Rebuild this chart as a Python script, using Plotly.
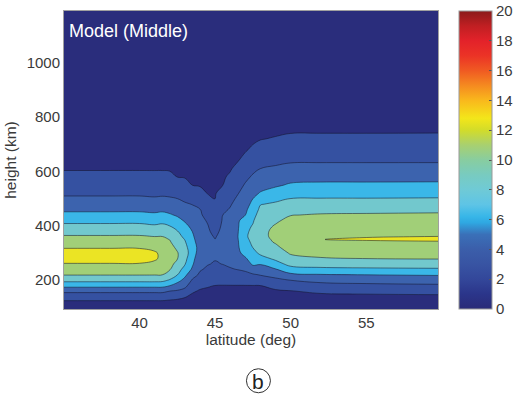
import numpy as np
import plotly.graph_objects as go

# ---- data ----
latitudes = [35, 38, 40, 41, 41.5, 42, 42.5, 43, 43.5, 44, 44.5, 45, 45.5, 46, 46.5,
             47, 47.5, 48, 49, 50, 52, 55, 60]
heights = [90, 120, 140, 160, 180, 200, 220, 240, 260, 280, 300, 320, 340, 350, 360,
           380, 400, 420, 440, 460, 480, 500, 520, 550, 580, 610, 640, 680, 720, 760,
           800, 900, 1000, 1200]

# one vertical profile (values over `heights`) per latitude
z_by_lat = [
    [0.5, 1.72, 2.90, 4.44, 6.63, 8.56, 10.09, 11.0, 11.91, 12.77, 12.76, 11.88, 11.04, 10.63, 10.21, 9.32, 8.41, 7.46, 6.49, 5.66, 4.97, 4.28, 3.72, 3.01, 2.31, 1.92, 1.77, 1.58, 1.39, 1.19, 1.0, 0.8, 0.6, 0.4],
    [0.5, 1.72, 2.90, 4.44, 6.63, 8.56, 10.09, 11.0, 11.91, 12.77, 12.76, 11.88, 11.04, 10.63, 10.21, 9.32, 8.41, 7.46, 6.49, 5.66, 4.97, 4.28, 3.72, 3.01, 2.31, 1.92, 1.77, 1.58, 1.39, 1.19, 1.0, 0.8, 0.6, 0.4],
    [0.5, 1.72, 2.90, 4.44, 6.63, 8.56, 10.09, 11.0, 11.91, 12.65, 12.65, 11.88, 11.04, 10.63, 10.21, 9.32, 8.41, 7.46, 6.49, 5.66, 4.97, 4.28, 3.72, 3.01, 2.31, 1.92, 1.77, 1.58, 1.39, 1.19, 1.0, 0.8, 0.6, 0.4],
    [0.5, 1.72, 2.90, 4.44, 6.63, 8.56, 10.07, 10.76, 11.45, 12.35, 12.30, 11.39, 10.71, 10.37, 10.03, 9.12, 8.19, 7.26, 6.33, 5.55, 4.86, 4.17, 3.66, 2.98, 2.30, 1.92, 1.77, 1.58, 1.39, 1.19, 1.0, 0.8, 0.6, 0.4],
    [0.5, 1.72, 2.90, 4.44, 6.60, 8.46, 10.02, 10.49, 10.97, 11.46, 11.46, 10.99, 10.52, 10.28, 10.05, 9.22, 8.35, 7.43, 6.48, 5.65, 4.95, 4.25, 3.70, 3.00, 2.30, 1.92, 1.77, 1.58, 1.39, 1.19, 1.0, 0.8, 0.6, 0.4],
    [0.5, 1.63, 2.67, 4.01, 6.01, 7.82, 9.16, 10.12, 10.47, 10.81, 10.84, 10.50, 10.16, 9.96, 9.57, 8.78, 7.99, 7.09, 6.18, 5.48, 4.82, 4.16, 3.65, 2.94, 2.24, 1.90, 1.76, 1.57, 1.38, 1.19, 1.0, 0.8, 0.6, 0.4],
    [0.55, 1.56, 2.47, 3.80, 5.21, 6.64, 8.04, 8.79, 9.55, 10.08, 10.11, 9.73, 9.18, 8.90, 8.63, 8.08, 7.32, 6.52, 5.79, 5.19, 4.60, 4.01, 3.50, 2.75, 1.99, 1.86, 1.73, 1.55, 1.36, 1.18, 1.0, 0.8, 0.6, 0.4],
    [0.6, 1.48, 2.13, 3.38, 4.49, 5.46, 6.42, 7.35, 8.13, 8.57, 8.98, 8.58, 8.17, 7.94, 7.63, 7.02, 6.40, 5.81, 5.27, 4.73, 4.19, 3.67, 3.15, 2.38, 1.94, 1.81, 1.68, 1.51, 1.34, 1.17, 1.0, 0.8, 0.6, 0.4],
    [0.7, 1.30, 1.70, 2.20, 3.00, 3.80, 4.73, 5.71, 6.22, 6.53, 6.84, 6.85, 6.56, 6.41, 6.26, 5.96, 5.56, 5.16, 4.76, 4.36, 3.94, 3.39, 2.83, 1.99, 1.88, 1.76, 1.64, 1.48, 1.32, 1.16, 1.0, 0.8, 0.6, 0.4],
    [0.8, 1.25, 1.55, 1.85, 2.34, 3.02, 3.69, 4.18, 4.50, 4.83, 5.16, 5.35, 5.17, 5.07, 4.98, 4.79, 4.61, 4.42, 4.23, 4.05, 3.54, 2.92, 2.31, 1.93, 1.81, 1.70, 1.59, 1.44, 1.30, 1.15, 1.0, 0.8, 0.6, 0.4],
    [0.85, 1.25, 1.52, 1.79, 2.11, 2.65, 3.19, 3.73, 4.10, 4.30, 4.50, 4.54, 4.43, 4.37, 4.31, 4.19, 4.08, 3.86, 3.45, 3.05, 2.65, 2.24, 1.97, 1.87, 1.76, 1.66, 1.56, 1.42, 1.28, 1.14, 1.0, 0.8, 0.6, 0.4],
    [0.9, 1.26, 1.50, 1.74, 1.98, 2.43, 2.90, 3.38, 3.86, 4.10, 4.23, 4.23, 4.10, 4.03, 3.91, 3.63, 3.34, 3.06, 2.77, 2.49, 2.20, 1.98, 1.92, 1.82, 1.72, 1.62, 1.52, 1.39, 1.26, 1.13, 1.0, 0.8, 0.6, 0.4],
    [0.9, 1.25, 1.49, 1.73, 1.96, 2.47, 3.03, 3.58, 4.04, 4.20, 4.36, 4.52, 4.55, 4.49, 4.44, 4.33, 4.22, 4.11, 3.99, 3.62, 3.24, 2.86, 2.48, 1.98, 1.86, 1.75, 1.63, 1.47, 1.31, 1.16, 1.0, 0.8, 0.6, 0.4],
    [0.9, 1.25, 1.49, 1.73, 1.96, 2.56, 3.21, 3.87, 4.26, 4.58, 4.90, 5.00, 5.10, 5.15, 5.20, 5.08, 4.96, 4.75, 4.45, 4.15, 3.83, 3.50, 3.17, 2.67, 2.17, 1.90, 1.76, 1.57, 1.38, 1.19, 1.0, 0.8, 0.6, 0.4],
    [0.85, 1.22, 1.47, 1.72, 1.96, 2.62, 3.35, 4.05, 4.57, 5.08, 5.60, 5.72, 5.83, 5.89, 5.95, 5.87, 5.78, 5.70, 5.34, 4.98, 4.63, 4.27, 3.91, 3.39, 2.87, 2.35, 1.94, 1.71, 1.47, 1.24, 1.0, 0.8, 0.6, 0.4],
    [0.8, 1.19, 1.45, 1.70, 1.96, 2.69, 3.51, 4.30, 5.06, 5.81, 6.56, 7.30, 7.52, 7.63, 7.74, 7.63, 7.41, 6.87, 5.99, 5.67, 5.33, 5.00, 4.67, 4.17, 3.61, 3.02, 2.43, 1.87, 1.58, 1.29, 1.0, 0.8, 0.6, 0.4],
    [0.8, 1.19, 1.45, 1.71, 1.97, 2.84, 3.77, 5.20, 6.29, 6.86, 7.43, 8.01, 8.27, 8.40, 8.53, 8.40, 8.13, 7.78, 7.33, 6.89, 6.44, 5.99, 5.56, 4.89, 4.22, 3.61, 3.02, 2.24, 1.74, 1.37, 1.0, 0.8, 0.6, 0.4],
    [0.8, 1.20, 1.47, 1.73, 1.99, 3.05, 4.10, 5.10, 6.13, 7.38, 8.33, 8.98, 9.38, 9.45, 9.53, 9.54, 9.42, 9.30, 8.85, 8.40, 7.91, 7.02, 6.13, 5.39, 4.70, 4.02, 3.44, 2.66, 1.93, 1.47, 1.0, 0.8, 0.6, 0.4],
    [0.7, 1.18, 1.50, 1.82, 2.47, 3.53, 4.67, 5.88, 7.33, 8.36, 9.02, 9.67, 10.13, 10.26, 10.39, 10.36, 10.12, 9.75, 9.25, 8.75, 8.25, 7.60, 6.80, 5.75, 5.00, 4.25, 3.63, 2.88, 2.13, 1.55, 1.0, 0.8, 0.6, 0.4],
    [0.6, 1.18, 1.56, 1.94, 2.92, 4.01, 5.54, 7.27, 8.55, 9.45, 10.19, 10.66, 10.99, 11.07, 11.16, 11.07, 10.90, 10.43, 9.94, 9.30, 8.67, 8.03, 7.31, 6.22, 5.34, 4.52, 3.80, 3.07, 2.35, 1.66, 1.0, 0.8, 0.6, 0.4],
    [0.5, 1.19, 1.65, 2.27, 3.35, 4.53, 5.87, 7.57, 8.79, 9.84, 10.69, 11.50, 11.78, 11.99, 11.86, 11.62, 11.23, 10.68, 10.14, 9.47, 8.77, 8.07, 7.38, 6.34, 5.43, 4.57, 3.82, 3.09, 2.36, 1.67, 1.0, 0.8, 0.6, 0.4],
    [0.5, 1.21, 1.69, 2.40, 3.54, 4.75, 6.01, 7.67, 8.91, 10.03, 10.63, 11.22, 11.82, 12.10, 11.96, 11.51, 11.07, 10.62, 10.18, 9.56, 8.81, 8.07, 7.38, 6.34, 5.43, 4.57, 3.82, 3.09, 2.36, 1.67, 1.0, 0.8, 0.6, 0.4],
    [0.5, 1.24, 1.73, 2.53, 3.71, 4.91, 6.16, 7.76, 9.03, 10.12, 10.71, 11.29, 11.88, 12.23, 12.03, 11.58, 11.13, 10.69, 10.24, 9.65, 8.88, 8.12, 7.41, 6.38, 5.45, 4.58, 3.82, 3.10, 2.38, 1.68, 1.0, 0.8, 0.6, 0.4],
]

x_ticks = [40, 45, 50, 55]
y_ticks = [200, 400, 600, 800, 1000]
cbar_ticks = [0, 2, 4, 6, 8, 10, 12, 14, 16, 18, 20]
panel_label = "Model (Middle)"

# filled-band colours (one per 2-unit band 0..20)
band_colors = ["#2a2d7c", "#3551a1", "#3c63ae", "#3ab7e8", "#72c8cd",
               "#a1cf78", "#ebe424", "#f7a123", "#ee3f24", "#a3161c"]
# continuous colour bar
cbar_scale = [
    [0.00, "#2a2b78"], [0.05, "#2b358a"], [0.10, "#33479a"], [0.15, "#3854a3"],
    [0.20, "#3b5eaa"], [0.25, "#3a70b8"], [0.29, "#2fa8e2"], [0.31, "#37b6e8"],
    [0.35, "#5ec4e6"], [0.40, "#6fcad6"], [0.45, "#78cbc0"], [0.50, "#88cda0"],
    [0.55, "#a8d070"], [0.60, "#d2dc2a"], [0.64, "#f3e61a"], [0.70, "#f9b81c"],
    [0.75, "#f58a20"], [0.80, "#f05a22"], [0.85, "#eb3326"], [0.90, "#e3222a"],
    [0.95, "#c01f22"], [1.00, "#8b1a1a"],
]

# contour fill colour scale: plotly evaluates band k at fraction (k+1)/11
n_levels = len(band_colors) + 1
fill_scale = [[0.0, band_colors[0]]]
for k, c in enumerate(band_colors):
    fill_scale.append([(k + 1) / n_levels, c])
fill_scale.append([1.0, band_colors[-1]])

z = np.array(z_by_lat).T

font_family = "Liberation Sans, Arial, sans-serif"
txt_col = "#3a3a3a"

fig = go.Figure()
fig.add_trace(go.Contour(
    x=latitudes, y=heights, z=z,
    autocontour=False,
    contours=dict(start=0, end=20, size=2, coloring="fill"),
    colorscale=fill_scale,
    line=dict(color="rgba(20,20,40,0.75)", width=0.7, smoothing=1.2),
    showscale=False,
    hoverinfo="skip",
))
# invisible trace carrying the continuous colour bar
fig.add_trace(go.Scatter(
    x=[47], y=[1100], mode="markers",
    marker=dict(size=1, opacity=0, color=[0], cmin=0, cmax=20,
                colorscale=cbar_scale, showscale=True,
                colorbar=dict(
                    x=459 / 514, xanchor="left", xref="container",
                    y=0.5, yanchor="middle", len=1.0, lenmode="fraction",
                    thickness=33, thicknessmode="pixels",
                    tickvals=cbar_ticks, ticks="inside", ticklen=3,
                    tickcolor="#555", outlinecolor="#999", outlinewidth=1,
                    tickfont=dict(family=font_family, size=15, color=txt_col),
                    ypad=0, xpad=0,
                )),
    showlegend=False, hoverinfo="skip",
))

fig.add_annotation(
    x=(64 - 61) / 377, y=(309 - 30) / 299, xref="paper", yref="paper",
    text=panel_label, showarrow=False, xanchor="left", yanchor="middle",
    font=dict(family=font_family, size=18, color="white"),
)
# circled (b) label
fig.add_shape(
    type="circle", xref="paper", yref="paper",
    xsizemode="pixel", ysizemode="pixel",
    xanchor=(257 - 61) / 377, yanchor=(309 - 381) / 299,
    x0=-12, x1=12, y0=-12, y1=12,
    line=dict(color="#333", width=1),
)
fig.add_annotation(
    x=(257 - 61) / 377, y=(309 - 382) / 299, xref="paper", yref="paper",
    text="b", showarrow=False, xanchor="center", yanchor="middle",
    font=dict(family=font_family, size=21, color="#222"),
)

fig.update_layout(
    width=514, height=398,
    margin=dict(l=61, r=76, t=10, b=89),
    paper_bgcolor="white", plot_bgcolor="white",
    font=dict(family=font_family, size=15, color=txt_col),
    showlegend=False,
    xaxis=dict(
        range=[35, 59.75], tickvals=x_ticks, showgrid=False, zeroline=False,
        showline=True, mirror=True, linecolor="#a0a0a0", linewidth=1,
        ticks="", tickfont=dict(size=15, color=txt_col),
        title=dict(text="latitude (deg)", font=dict(size=15.5, color=txt_col), standoff=4),
    ),
    yaxis=dict(
        range=[94, 1191], tickvals=y_ticks, showgrid=False, zeroline=False,
        showline=True, mirror=True, linecolor="#a0a0a0", linewidth=1,
        ticks="", tickfont=dict(size=15, color=txt_col),
        title=dict(text="height (km)", font=dict(size=15.5, color=txt_col), standoff=6),
    ),
)

fig.write_html("out.html")
